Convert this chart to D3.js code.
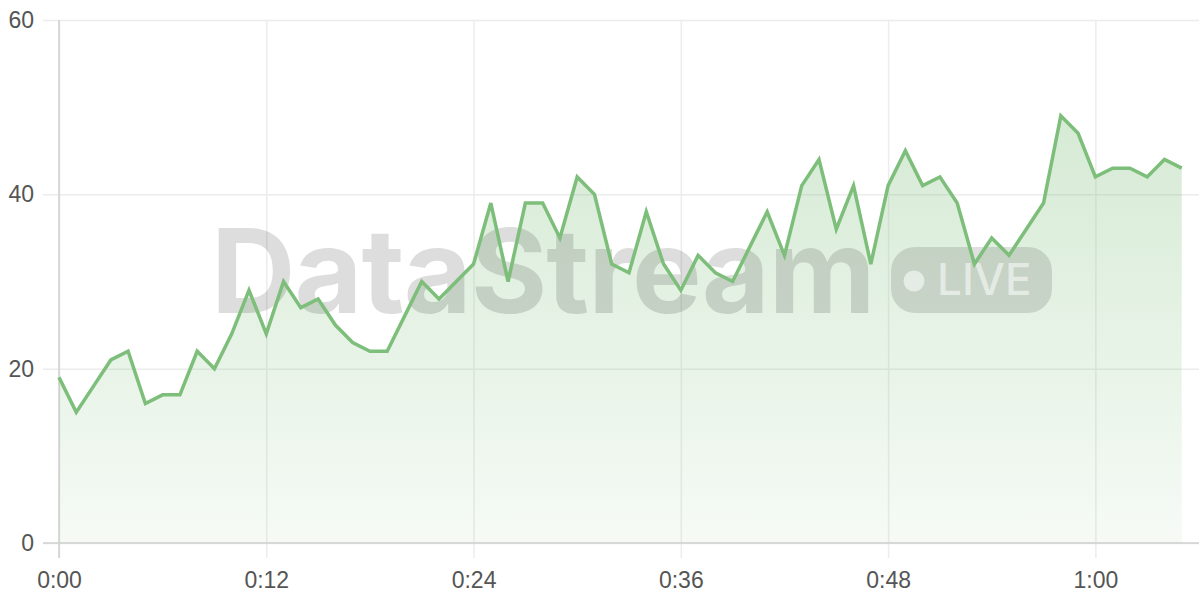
<!DOCTYPE html>
<html>
<head>
<meta charset="utf-8">
<script src="https://cdn.jsdelivr.net/npm/d3@7"></script>
<style>
  html, body { margin: 0; padding: 0; background: #fff; }
  svg { display: block; font-family: Inter, "Noto Sans", sans-serif; }
</style>
</head>
<body>
<svg id="chart" width="1200" height="600"></svg>
<script>
// minutes since start (one sample per minute)
const minutes = d3.range(0, 66);
const values = [
  19, 15, 18, 21, 22, 16, 17, 17, 22, 20,
  24, 29, 24, 30, 27, 28, 25, 23, 22, 22,
  26, 30, 28, 30, 32, 39, 30, 39, 39, 35,
  42, 40, 32, 31, 38, 32, 29, 33, 31, 30,
  34, 38, 33, 41, 44, 36, 41, 32, 41, 45,
  41, 42, 39, 32, 35, 33, 36, 39, 49, 47,
  42, 43, 43, 42, 44, 43
];
const xTicks = [0, 12, 24, 36, 48, 60];
const yTicks = [0, 20, 40, 60];
const watermarkText = "DataStream";
const badgeText = "LIVE";

const W = 1200, H = 600;
const margin = { top: 20, right: 1, bottom: 57, left: 59 };
const svg = d3.select("#chart");

const x = d3.scaleLinear().domain([0, 66]).range([margin.left, W - margin.right]);
const y = d3.scaleLinear().domain([0, 60]).range([H - margin.bottom, margin.top]);

const fmt = m => Math.floor(m / 60) + ":" + String(m % 60).padStart(2, "0");

// gradient
const defs = svg.append("defs");
const grad = defs.append("linearGradient").attr("id", "areaGrad")
  .attr("x1", 0).attr("y1", 0).attr("x2", 0).attr("y2", 1);
grad.append("stop").attr("offset", "0%").attr("stop-color", "#7dbe7a").attr("stop-opacity", 0.32);
grad.append("stop").attr("offset", "100%").attr("stop-color", "#7dbe7a").attr("stop-opacity", 0.07);

// horizontal grid + y ticks
svg.append("g")
  .attr("transform", `translate(${margin.left},0)`)
  .call(d3.axisLeft(y).tickValues(yTicks).tickSize(16).tickPadding(9).tickFormat(d3.format("d")))
  .call(g => g.select(".domain").remove())
  .call(g => g.selectAll(".tick line").attr("x2", W - margin.right - margin.left).attr("x1", -16).attr("stroke", "#ececec").attr("stroke-width", 1.5))
  .call(g => g.selectAll(".tick text").attr("fill", "#555").attr("font-size", 23).attr("x", -25));

// vertical grid + x ticks
svg.append("g")
  .attr("transform", `translate(0,${H - margin.bottom})`)
  .call(d3.axisBottom(x).tickValues(xTicks).tickSize(15).tickPadding(14).tickFormat(fmt))
  .call(g => g.select(".domain").remove())
  .call(g => g.selectAll(".tick line").attr("y1", -(H - margin.bottom - margin.top)).attr("y2", 15).attr("stroke", "#ececec").attr("stroke-width", 1.5))
  .call(g => g.selectAll(".tick text").attr("fill", "#555").attr("font-size", 23));

// axis lines
svg.append("line")
  .attr("x1", x(0)).attr("x2", x(0)).attr("y1", margin.top).attr("y2", H - margin.bottom + 15)
  .attr("stroke", "#d0d0d0").attr("stroke-width", 1.5);
svg.append("line")
  .attr("x1", margin.left - 16).attr("x2", W - margin.right).attr("y1", y(0)).attr("y2", y(0))
  .attr("stroke", "#d0d0d0").attr("stroke-width", 1.5);

// area
const area = d3.area().x((d, i) => x(minutes[i])).y0(y(0)).y1(d => y(d));
svg.append("path").datum(values).attr("d", area).attr("fill", "url(#areaGrad)");

// watermark
const wm = svg.append("g").attr("pointer-events", "none");
wm.append("text")
  .attr("x", 211).attr("y", 313)
  .attr("font-size", 117).attr("font-weight", 700)
  .attr("letter-spacing", -1)
  .attr("fill", "#000").attr("fill-opacity", 0.135)
  .text(watermarkText);
wm.append("rect")
  .attr("x", 891).attr("y", 247).attr("width", 161).attr("height", 66).attr("rx", 24)
  .attr("fill", "#000").attr("fill-opacity", 0.12);
wm.append("circle").attr("cx", 914).attr("cy", 281).attr("r", 10.5)
  .attr("fill", "#fff").attr("fill-opacity", 0.55);
wm.append("text")
  .attr("x", 937).attr("y", 295)
  .attr("font-size", 44).attr("font-weight", 500)
  .attr("fill", "#fff").attr("fill-opacity", 0.55)
  .text(badgeText);

// line
const line = d3.line().x((d, i) => x(minutes[i])).y(d => y(d));
svg.append("path").datum(values).attr("d", line)
  .attr("fill", "none").attr("stroke", "#7dbe7a").attr("stroke-width", 3.5)
  .attr("stroke-linejoin", "miter");
</script>
</body>
</html>
